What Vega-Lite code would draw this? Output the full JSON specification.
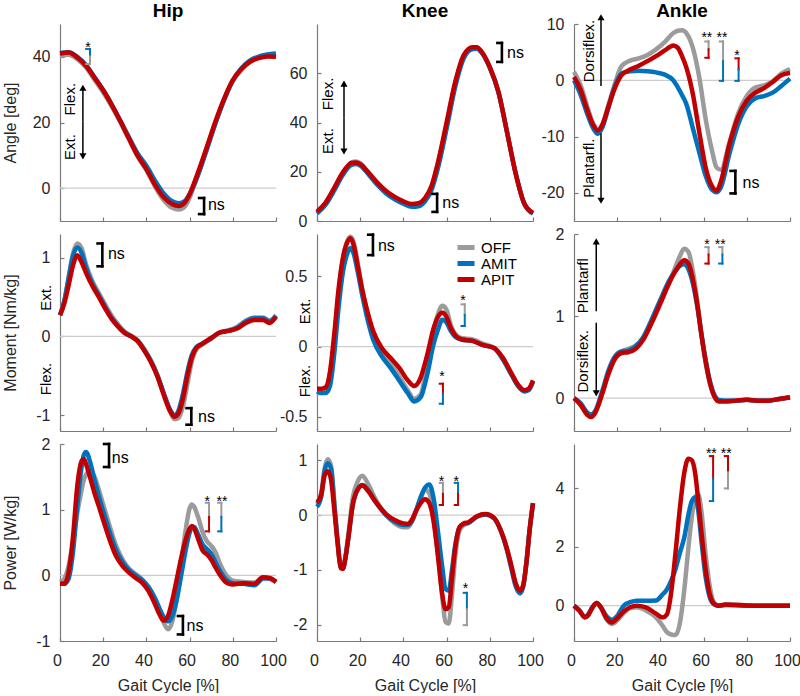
{
"$schema": "https://vega.github.io/schema/vega-lite/v6.json",
"background": "white",
"padding": {"left": 2, "top": 2, "right": 0, "bottom": 0},
"bounds": "flush",
"columns": 3,
"spacing": {"row": 13, "column": 41},
"resolve": {"scale": {"color": "independent"}, "legend": {"color": "independent"}},
"config": {
  "font": "Liberation Sans",
  "view": {"stroke": null},
  "axis": {"grid": false, "domainColor": "#7a7a7a", "domainWidth": 1.2, "tickColor": "#7a7a7a", "tickWidth": 1.2, "tickSize": -4, "labelFontSize": 16, "labelColor": "#262626", "labelFont": "Liberation Sans", "titleFont": "Liberation Sans", "titleFontSize": 16, "titleFontWeight": "normal", "titleColor": "#262626", "labelFlush": false},
  "axisX": {"labelPadding": 15},
  "axisY": {"labelPadding": 14},
  "title": {"font": "Liberation Sans", "fontSize": 19, "fontWeight": "bold", "color": "#000000", "offset": 3},
  "text": {"font": "Liberation Sans"}
},
"concat": [
{
  "width": 216, "height": 197,
  "title": {"text": "Hip"},
  "data": {"values": [
    {"x":0,"OFF":40.2,"AMIT":41.2,"APIT":41.0},{"x":4,"OFF":40.6,"AMIT":41.4,"APIT":41.3},{"x":8,"OFF":39.3,"AMIT":40.0,"APIT":39.8},{"x":12,"OFF":36.8,"AMIT":37.5,"APIT":37.3},{"x":16,"OFF":33.0,"AMIT":33.8,"APIT":33.6},{"x":20,"OFF":29.2,"AMIT":29.9,"APIT":29.8},{"x":24,"OFF":24.8,"AMIT":25.4,"APIT":25.3},{"x":28,"OFF":20.0,"AMIT":20.5,"APIT":20.3},{"x":32,"OFF":14.8,"AMIT":15.4,"APIT":15.0},{"x":36,"OFF":9.6,"AMIT":10.5,"APIT":9.8},{"x":40,"OFF":5.5,"AMIT":6.8,"APIT":5.8},{"x":44,"OFF":0.5,"AMIT":2.3,"APIT":1.0},{"x":48,"OFF":-3.6,"AMIT":-1.6,"APIT":-2.8},{"x":52,"OFF":-6.0,"AMIT":-4.0,"APIT":-4.9},{"x":55,"OFF":-6.5,"AMIT":-4.6,"APIT":-5.4},{"x":58,"OFF":-5.4,"AMIT":-3.8,"APIT":-4.2},{"x":60,"OFF":-2.9,"AMIT":-1.8,"APIT":-1.9},{"x":62,"OFF":0.6,"AMIT":0.9,"APIT":1.4},{"x":64,"OFF":4.3,"AMIT":4.2,"APIT":5.0},{"x":68,"OFF":12.2,"AMIT":11.8,"APIT":12.6},{"x":72,"OFF":20.0,"AMIT":19.8,"APIT":20.4},{"x":76,"OFF":27.0,"AMIT":26.9,"APIT":27.3},{"x":80,"OFF":32.6,"AMIT":32.8,"APIT":32.9},{"x":84,"OFF":36.1,"AMIT":36.5,"APIT":36.3},{"x":88,"OFF":38.5,"AMIT":38.9,"APIT":38.5},{"x":92,"OFF":39.8,"AMIT":40.1,"APIT":39.6},{"x":96,"OFF":40.4,"AMIT":40.7,"APIT":40.1},{"x":100,"OFF":40.5,"AMIT":41.0,"APIT":40.0}
  ]},
  "encoding": {
    "x": {"field": "x", "type": "quantitative", "scale": {"domain": [0, 100], "nice": false}, "axis": {"values": [0,20,40,60,80,100], "labels": false}, "title": null},
    "y": {"field": "y", "type": "quantitative", "scale": {"domain": [-10, 50], "nice": false, "zero": false}, "axis": {"values": [0,20,40], "labelExpr": "'' + datum.value", "titleX": -42, "titleY": 98.5}, "title": "Angle [deg]"}
  },
  "layer": [
    {"data": {"values": [{"x":0,"x2":100,"y":0}]}, "mark": {"type": "rule", "color": "#cccccc", "strokeWidth": 1.3}, "encoding": {"x2": {"field": "x2"}}},
    {"transform": [{"fold": ["OFF","AMIT","APIT"], "as": ["c","y"]}, {"filter": "datum.c === 'OFF'"}], "mark": {"type": "line", "strokeWidth": 4.5, "interpolate": "monotone"}, "encoding": {"color": {"field": "c", "type": "nominal", "scale": {"domain": ["OFF","AMIT","APIT"], "range": ["#9b9b9b","#0072bd","#c00000"]}, "legend": null}}},
    {"transform": [{"fold": ["OFF","AMIT","APIT"], "as": ["c","y"]}, {"filter": "datum.c === 'AMIT'"}], "mark": {"type": "line", "strokeWidth": 4.5, "interpolate": "monotone"}, "encoding": {"color": {"field": "c", "type": "nominal", "scale": {"domain": ["OFF","AMIT","APIT"], "range": ["#9b9b9b","#0072bd","#c00000"]}, "legend": null}}},
    {"transform": [{"fold": ["OFF","AMIT","APIT"], "as": ["c","y"]}, {"filter": "datum.c === 'APIT'"}], "mark": {"type": "line", "strokeWidth": 4.5, "interpolate": "monotone"}, "encoding": {"color": {"field": "c", "type": "nominal", "scale": {"domain": ["OFF","AMIT","APIT"], "range": ["#9b9b9b","#0072bd","#c00000"]}, "legend": null}}},
    {"data": {"values": [
      {"x":13.9,"x2":13.9,"y":42.4,"y2":40.1,"k":"AMIT"},{"x":13.9,"x2":13.9,"y":40.1,"y2":37.8,"k":"OFF"},{"x":12.1,"x2":13.9,"y":42.4,"y2":42.4,"k":"AMIT"},{"x":12.1,"x2":13.9,"y":37.8,"y2":37.8,"k":"OFF"}
    ]}, "mark": {"type": "rule", "strokeWidth": 2, "strokeCap": "square"}, "encoding": {"x2": {"field": "x2"}, "y2": {"field": "y2"}, "stroke": {"field": "k", "type": "nominal", "scale": {"domain": ["OFF","AMIT","APIT"], "range": ["#9b9b9b","#0072bd","#c00000"]}, "legend": null}}},
    {"data": {"values": [
      {"x":66.7,"x2":66.7,"y":-3.0,"y2":-7.9},{"x":64.4,"x2":66.7,"y":-3.0,"y2":-3.0},{"x":64.4,"x2":66.7,"y":-7.9,"y2":-7.9}
    ]}, "mark": {"type": "rule", "strokeWidth": 2.6, "strokeCap": "square", "color": "#000000"}, "encoding": {"x2": {"field": "x2"}, "y2": {"field": "y2"}}},
    {"data": {"values": [{"x":68.5,"y":-5.4,"t":"ns"}]}, "mark": {"type": "text", "align": "left", "baseline": "alphabetic", "dy": 4, "fontSize": 16, "color": "#000000"}, "encoding": {"text": {"field": "t"}}},
    {"data": {"values": [{"x":13.0,"y":44.0,"t":"*"}]}, "mark": {"type": "text", "align": "center", "baseline": "alphabetic", "dy": 8, "fontSize": 14, "color": "#000000"}, "encoding": {"text": {"field": "t"}}},
    {"data": {"values": [{"x":4.4,"y":27.1,"t":"Flex."},{"x":4.4,"y":12.5,"t":"Ext."}]}, "mark": {"type": "text", "angle": 270, "align": "center", "baseline": "middle", "fontSize": 15, "color": "#000000"}, "encoding": {"text": {"field": "t"}}},
    {"data": {"values": [{"x":10.6,"y":20.2,"y2":30.6},{"x":10.6,"y":20.2,"y2":9.7}]}, "mark": {"type": "rule", "color": "#000000", "strokeWidth": 1.5}, "encoding": {"y2": {"field": "y2"}}},
    {"data": {"values": [{"x":10.6,"y":30.6,"d":"up"},{"x":10.6,"y":9.7,"d":"down"}]}, "mark": {"type": "point", "filled": true, "color": "#000000", "opacity": 1, "size": 50}, "encoding": {"shape": {"field": "d", "type": "nominal", "scale": {"domain": ["up","down"], "range": ["triangle-up","triangle-down"]}, "legend": null}}}
  ]
},
{
  "width": 216, "height": 197,
  "title": {"text": "Knee"},
  "data": {"values": [
    {"x":0,"OFF":3.5,"AMIT":3.0,"APIT":3.8},{"x":4,"OFF":7.2,"AMIT":6.6,"APIT":7.5},{"x":8,"OFF":13.2,"AMIT":12.4,"APIT":13.5},{"x":12,"OFF":19.6,"AMIT":18.8,"APIT":19.8},{"x":16,"OFF":23.8,"AMIT":22.8,"APIT":23.6},{"x":18,"OFF":24.2,"AMIT":23.1,"APIT":23.8},{"x":20,"OFF":23.5,"AMIT":22.5,"APIT":23.1},{"x":24,"OFF":19.4,"AMIT":18.8,"APIT":19.5},{"x":28,"OFF":15.0,"AMIT":14.6,"APIT":15.5},{"x":32,"OFF":11.6,"AMIT":11.2,"APIT":12.2},{"x":36,"OFF":9.2,"AMIT":8.8,"APIT":9.8},{"x":40,"OFF":7.2,"AMIT":7.0,"APIT":8.0},{"x":44,"OFF":6.0,"AMIT":5.8,"APIT":6.9},{"x":47,"OFF":6.2,"AMIT":6.0,"APIT":7.2},{"x":50,"OFF":8.5,"AMIT":8.0,"APIT":9.3},{"x":53,"OFF":13.5,"AMIT":12.5,"APIT":14.2},{"x":56,"OFF":23.0,"AMIT":21.5,"APIT":23.8},{"x":60,"OFF":39.2,"AMIT":37.5,"APIT":40.0},{"x":64,"OFF":56.0,"AMIT":54.5,"APIT":56.5},{"x":68,"OFF":67.3,"AMIT":66.2,"APIT":67.5},{"x":72,"OFF":70.3,"AMIT":69.8,"APIT":70.6},{"x":74,"OFF":70.4,"AMIT":70.0,"APIT":70.6},{"x":76,"OFF":68.9,"AMIT":68.6,"APIT":69.0},{"x":80,"OFF":62.5,"AMIT":62.2,"APIT":62.5},{"x":84,"OFF":52.5,"AMIT":52.2,"APIT":52.5},{"x":88,"OFF":36.0,"AMIT":36.0,"APIT":36.0},{"x":92,"OFF":19.3,"AMIT":19.3,"APIT":19.2},{"x":96,"OFF":7.0,"AMIT":7.0,"APIT":7.0},{"x":100,"OFF":3.3,"AMIT":3.0,"APIT":3.3}
  ]},
  "encoding": {
    "x": {"field": "x", "type": "quantitative", "scale": {"domain": [0, 100], "nice": false}, "axis": {"values": [0,20,40,60,80,100], "labels": false}, "title": null},
    "y": {"field": "y", "type": "quantitative", "scale": {"domain": [0, 80], "nice": false, "zero": false}, "axis": {"values": [0,20,40,60], "labelExpr": "'' + datum.value"}, "title": null}
  },
  "layer": [
    {"transform": [{"fold": ["OFF","AMIT","APIT"], "as": ["c","y"]}, {"filter": "datum.c === 'OFF'"}], "mark": {"type": "line", "strokeWidth": 4.5, "interpolate": "monotone"}, "encoding": {"color": {"field": "c", "type": "nominal", "scale": {"domain": ["OFF","AMIT","APIT"], "range": ["#9b9b9b","#0072bd","#c00000"]}, "legend": null}}},
    {"transform": [{"fold": ["OFF","AMIT","APIT"], "as": ["c","y"]}, {"filter": "datum.c === 'AMIT'"}], "mark": {"type": "line", "strokeWidth": 4.5, "interpolate": "monotone"}, "encoding": {"color": {"field": "c", "type": "nominal", "scale": {"domain": ["OFF","AMIT","APIT"], "range": ["#9b9b9b","#0072bd","#c00000"]}, "legend": null}}},
    {"transform": [{"fold": ["OFF","AMIT","APIT"], "as": ["c","y"]}, {"filter": "datum.c === 'APIT'"}], "mark": {"type": "line", "strokeWidth": 4.5, "interpolate": "monotone"}, "encoding": {"color": {"field": "c", "type": "nominal", "scale": {"domain": ["OFF","AMIT","APIT"], "range": ["#9b9b9b","#0072bd","#c00000"]}, "legend": null}}},
    {"data": {"values": [
      {"x":85.6,"x2":85.6,"y":72.3,"y2":64.6},{"x":83.5,"x2":85.6,"y":72.3,"y2":72.3},{"x":83.5,"x2":85.6,"y":64.6,"y2":64.6},
      {"x":55.6,"x2":55.6,"y":11.0,"y2":3.7},{"x":53.5,"x2":55.6,"y":11.0,"y2":11.0},{"x":53.5,"x2":55.6,"y":3.7,"y2":3.7}
    ]}, "mark": {"type": "rule", "strokeWidth": 2.6, "strokeCap": "square", "color": "#000000"}, "encoding": {"x2": {"field": "x2"}, "y2": {"field": "y2"}}},
    {"data": {"values": [{"x":88.0,"y":67.8,"t":"ns"},{"x":58.0,"y":6.9,"t":"ns"}]}, "mark": {"type": "text", "align": "left", "baseline": "alphabetic", "dy": 4, "fontSize": 16, "color": "#000000"}, "encoding": {"text": {"field": "t"}}},
    {"data": {"values": [{"x":5.1,"y":51.6,"t":"Flex."},{"x":5.1,"y":32.5,"t":"Ext."}]}, "mark": {"type": "text", "angle": 270, "align": "center", "baseline": "middle", "fontSize": 15, "color": "#000000"}, "encoding": {"text": {"field": "t"}}},
    {"data": {"values": [{"x":12.5,"y":42,"y2":55.8},{"x":12.5,"y":42,"y2":28.2}]}, "mark": {"type": "rule", "color": "#000000", "strokeWidth": 1.5}, "encoding": {"y2": {"field": "y2"}}},
    {"data": {"values": [{"x":12.5,"y":55.8,"d":"up"},{"x":12.5,"y":28.2,"d":"down"}]}, "mark": {"type": "point", "filled": true, "color": "#000000", "opacity": 1, "size": 50}, "encoding": {"shape": {"field": "d", "type": "nominal", "scale": {"domain": ["up","down"], "range": ["triangle-up","triangle-down"]}, "legend": null}}}
  ]
},
{
  "width": 216, "height": 197,
  "title": {"text": "Ankle", "dy": 10},
  "data": {"values": [
    {"x":0,"OFF":1.5,"AMIT":0.0,"APIT":0.6},{"x":3,"OFF":-0.8,"AMIT":-2.5,"APIT":-1.6},{"x":6,"OFF":-4.5,"AMIT":-5.8,"APIT":-5.1},{"x":9,"OFF":-7.8,"AMIT":-8.6,"APIT":-8.0},{"x":11,"OFF":-8.8,"AMIT":-9.5,"APIT":-8.9},{"x":13,"OFF":-8.0,"AMIT":-8.5,"APIT":-8.0},{"x":16,"OFF":-4.3,"AMIT":-4.8,"APIT":-4.6},{"x":19,"OFF":-0.5,"AMIT":-1.0,"APIT":-1.3},{"x":22,"OFF":2.5,"AMIT":1.2,"APIT":0.9},{"x":26,"OFF":3.5,"AMIT":1.6,"APIT":1.9},{"x":30,"OFF":3.9,"AMIT":1.7,"APIT":2.6},{"x":34,"OFF":4.5,"AMIT":1.6,"APIT":3.4},{"x":38,"OFF":5.5,"AMIT":1.4,"APIT":4.3},{"x":42,"OFF":6.8,"AMIT":1.0,"APIT":5.3},{"x":46,"OFF":8.4,"AMIT":0.0,"APIT":6.2},{"x":48,"OFF":8.8,"AMIT":-1.2,"APIT":5.8},{"x":50,"OFF":8.9,"AMIT":-2.6,"APIT":4.3},{"x":52,"OFF":8.4,"AMIT":-4.2,"APIT":2.3},{"x":55,"OFF":5.8,"AMIT":-8.5,"APIT":-2.4},{"x":58,"OFF":0.5,"AMIT":-12.8,"APIT":-9.2},{"x":61,"OFF":-7.0,"AMIT":-17.0,"APIT":-15.6},{"x":64,"OFF":-12.7,"AMIT":-19.5,"APIT":-18.9},{"x":66,"OFF":-15.5,"AMIT":-19.9,"APIT":-19.6},{"x":68,"OFF":-15.9,"AMIT":-19.0,"APIT":-18.0},{"x":72,"OFF":-11.0,"AMIT":-13.0,"APIT":-11.3},{"x":76,"OFF":-5.9,"AMIT":-7.8,"APIT":-6.5},{"x":80,"OFF":-2.8,"AMIT":-4.6,"APIT":-3.6},{"x":84,"OFF":-1.3,"AMIT":-3.2,"APIT":-2.2},{"x":88,"OFF":-0.9,"AMIT":-2.8,"APIT":-1.4},{"x":92,"OFF":-0.2,"AMIT":-2.2,"APIT":-0.3},{"x":96,"OFF":1.2,"AMIT":-1.0,"APIT":0.9},{"x":100,"OFF":2.0,"AMIT":0.3,"APIT":1.3}
  ]},
  "encoding": {
    "x": {"field": "x", "type": "quantitative", "scale": {"domain": [0, 100], "nice": false}, "axis": {"values": [0,20,40,60,80,100], "labels": false}, "title": null},
    "y": {"field": "y", "type": "quantitative", "scale": {"domain": [-25, 10], "nice": false, "zero": false}, "axis": {"values": [-20,-10,0,10], "labelExpr": "'' + datum.value"}, "title": null}
  },
  "layer": [
    {"data": {"values": [{"x":0,"x2":100,"y":0}]}, "mark": {"type": "rule", "color": "#cccccc", "strokeWidth": 1.3}, "encoding": {"x2": {"field": "x2"}}},
    {"transform": [{"fold": ["OFF","AMIT","APIT"], "as": ["c","y"]}, {"filter": "datum.c === 'OFF'"}], "mark": {"type": "line", "strokeWidth": 4.5, "interpolate": "monotone"}, "encoding": {"color": {"field": "c", "type": "nominal", "scale": {"domain": ["OFF","AMIT","APIT"], "range": ["#9b9b9b","#0072bd","#c00000"]}, "legend": null}}},
    {"transform": [{"fold": ["OFF","AMIT","APIT"], "as": ["c","y"]}, {"filter": "datum.c === 'AMIT'"}], "mark": {"type": "line", "strokeWidth": 4.5, "interpolate": "monotone"}, "encoding": {"color": {"field": "c", "type": "nominal", "scale": {"domain": ["OFF","AMIT","APIT"], "range": ["#9b9b9b","#0072bd","#c00000"]}, "legend": null}}},
    {"transform": [{"fold": ["OFF","AMIT","APIT"], "as": ["c","y"]}, {"filter": "datum.c === 'APIT'"}], "mark": {"type": "line", "strokeWidth": 4.5, "interpolate": "monotone"}, "encoding": {"color": {"field": "c", "type": "nominal", "scale": {"domain": ["OFF","AMIT","APIT"], "range": ["#9b9b9b","#0072bd","#c00000"]}, "legend": null}}},
    {"data": {"values": [
      {"x":62.3,"x2":62.3,"y":6.9,"y2":5.5,"k":"OFF"},{"x":62.3,"x2":62.3,"y":5.5,"y2":4.0,"k":"APIT"},{"x":60.8,"x2":62.3,"y":6.9,"y2":6.9,"k":"OFF"},{"x":60.8,"x2":62.3,"y":4.0,"y2":4.0,"k":"APIT"},
      {"x":69.0,"x2":69.0,"y":6.9,"y2":3.4,"k":"OFF"},{"x":69.0,"x2":69.0,"y":3.4,"y2":-0.1,"k":"AMIT"},{"x":67.5,"x2":69.0,"y":6.9,"y2":6.9,"k":"OFF"},{"x":67.5,"x2":69.0,"y":-0.1,"y2":-0.1,"k":"AMIT"},
      {"x":76.2,"x2":76.2,"y":3.9,"y2":1.95,"k":"APIT"},{"x":76.2,"x2":76.2,"y":1.95,"y2":-0.1,"k":"AMIT"},{"x":74.7,"x2":76.2,"y":3.9,"y2":3.9,"k":"APIT"},{"x":74.7,"x2":76.2,"y":-0.1,"y2":-0.1,"k":"AMIT"}
    ]}, "mark": {"type": "rule", "strokeWidth": 2, "strokeCap": "square"}, "encoding": {"x2": {"field": "x2"}, "y2": {"field": "y2"}, "stroke": {"field": "k", "type": "nominal", "scale": {"domain": ["OFF","AMIT","APIT"], "range": ["#9b9b9b","#0072bd","#c00000"]}, "legend": null}}},
    {"data": {"values": [
      {"x":74.7,"x2":74.7,"y":-16.1,"y2":-20.1},{"x":72.5,"x2":74.7,"y":-16.1,"y2":-16.1},{"x":72.5,"x2":74.7,"y":-20.1,"y2":-20.1}
    ]}, "mark": {"type": "rule", "strokeWidth": 2.6, "strokeCap": "square", "color": "#000000"}, "encoding": {"x2": {"field": "x2"}, "y2": {"field": "y2"}}},
    {"data": {"values": [{"x":78.0,"y":-18.4,"t":"ns"}]}, "mark": {"type": "text", "align": "left", "baseline": "alphabetic", "dy": 4, "fontSize": 16, "color": "#000000"}, "encoding": {"text": {"field": "t"}}},
    {"data": {"values": [{"x":61.5,"y":8.3,"t":"**"},{"x":68.5,"y":8.3,"t":"**"},{"x":75.5,"y":5.1,"t":"*"}]}, "mark": {"type": "text", "align": "center", "baseline": "alphabetic", "dy": 8, "fontSize": 14, "color": "#000000"}, "encoding": {"text": {"field": "t"}}},
    {"data": {"values": [{"x":6.9,"y":5.2,"t":"Dorsiflex."},{"x":6.9,"y":-15.6,"t":"Plantarfl."}]}, "mark": {"type": "text", "angle": 270, "align": "center", "baseline": "middle", "fontSize": 15, "color": "#000000"}, "encoding": {"text": {"field": "t"}}},
    {"data": {"values": [{"x":12.5,"y":-1.0,"y2":11.2},{"x":12.5,"y":-9.4,"y2":-21.4}]}, "mark": {"type": "rule", "color": "#000000", "strokeWidth": 1.5}, "encoding": {"y2": {"field": "y2"}}},
    {"data": {"values": [{"x":12.5,"y":11.2,"d":"up"},{"x":12.5,"y":-21.4,"d":"down"}]}, "mark": {"type": "point", "filled": true, "color": "#000000", "opacity": 1, "size": 50}, "encoding": {"shape": {"field": "d", "type": "nominal", "scale": {"domain": ["up","down"], "range": ["triangle-up","triangle-down"]}, "legend": null}}}
  ]
},
{
  "width": 216, "height": 197,
  "data": {"values": [
    {"x":0,"OFF":0.27,"AMIT":0.27,"APIT":0.27},{"x":2,"OFF":0.45,"AMIT":0.45,"APIT":0.42},{"x":4,"OFF":0.75,"AMIT":0.74,"APIT":0.65},{"x":6,"OFF":1.05,"AMIT":1.02,"APIT":0.90},{"x":8,"OFF":1.18,"AMIT":1.13,"APIT":1.03},{"x":10,"OFF":1.12,"AMIT":1.06,"APIT":0.94},{"x":12,"OFF":0.92,"AMIT":0.88,"APIT":0.81},{"x":15,"OFF":0.70,"AMIT":0.67,"APIT":0.64},{"x":18,"OFF":0.55,"AMIT":0.52,"APIT":0.50},{"x":21,"OFF":0.40,"AMIT":0.37,"APIT":0.35},{"x":24,"OFF":0.26,"AMIT":0.23,"APIT":0.22},{"x":27,"OFF":0.15,"AMIT":0.13,"APIT":0.12},{"x":30,"OFF":0.06,"AMIT":0.05,"APIT":0.04},{"x":33,"OFF":0.01,"AMIT":0.00,"APIT":0.00},{"x":36,"OFF":-0.05,"AMIT":-0.06,"APIT":-0.06},{"x":39,"OFF":-0.16,"AMIT":-0.17,"APIT":-0.18},{"x":42,"OFF":-0.30,"AMIT":-0.31,"APIT":-0.32},{"x":45,"OFF":-0.48,"AMIT":-0.49,"APIT":-0.50},{"x":48,"OFF":-0.72,"AMIT":-0.72,"APIT":-0.74},{"x":51,"OFF":-0.95,"AMIT":-0.93,"APIT":-0.95},{"x":53,"OFF":-1.05,"AMIT":-1.00,"APIT":-1.02},{"x":55,"OFF":-1.03,"AMIT":-0.93,"APIT":-0.97},{"x":57,"OFF":-0.88,"AMIT":-0.72,"APIT":-0.78},{"x":59,"OFF":-0.60,"AMIT":-0.45,"APIT":-0.50},{"x":61,"OFF":-0.32,"AMIT":-0.24,"APIT":-0.27},{"x":63,"OFF":-0.17,"AMIT":-0.14,"APIT":-0.15},{"x":66,"OFF":-0.10,"AMIT":-0.09,"APIT":-0.09},{"x":70,"OFF":-0.03,"AMIT":-0.02,"APIT":-0.02},{"x":74,"OFF":0.05,"AMIT":0.05,"APIT":0.05},{"x":78,"OFF":0.08,"AMIT":0.07,"APIT":0.07},{"x":82,"OFF":0.12,"AMIT":0.11,"APIT":0.10},{"x":86,"OFF":0.20,"AMIT":0.19,"APIT":0.17},{"x":90,"OFF":0.24,"AMIT":0.23,"APIT":0.21},{"x":94,"OFF":0.24,"AMIT":0.23,"APIT":0.21},{"x":97,"OFF":0.20,"AMIT":0.19,"APIT":0.17},{"x":100,"OFF":0.27,"AMIT":0.26,"APIT":0.25}
  ]},
  "encoding": {
    "x": {"field": "x", "type": "quantitative", "scale": {"domain": [0, 100], "nice": false}, "axis": {"values": [0,20,40,60,80,100], "labels": false}, "title": null},
    "y": {"field": "y", "type": "quantitative", "scale": {"domain": [-1.2, 1.3], "nice": false, "zero": false}, "axis": {"values": [-1,0,1], "labelExpr": "'' + datum.value", "titleX": -42, "titleY": 98.5}, "title": "Moment [Nm/kg]"}
  },
  "layer": [
    {"data": {"values": [{"x":0,"x2":100,"y":0}]}, "mark": {"type": "rule", "color": "#cccccc", "strokeWidth": 1.3}, "encoding": {"x2": {"field": "x2"}}},
    {"transform": [{"fold": ["OFF","AMIT","APIT"], "as": ["c","y"]}, {"filter": "datum.c === 'OFF'"}], "mark": {"type": "line", "strokeWidth": 4.5, "interpolate": "monotone"}, "encoding": {"color": {"field": "c", "type": "nominal", "scale": {"domain": ["OFF","AMIT","APIT"], "range": ["#9b9b9b","#0072bd","#c00000"]}, "legend": null}}},
    {"transform": [{"fold": ["OFF","AMIT","APIT"], "as": ["c","y"]}, {"filter": "datum.c === 'AMIT'"}], "mark": {"type": "line", "strokeWidth": 4.5, "interpolate": "monotone"}, "encoding": {"color": {"field": "c", "type": "nominal", "scale": {"domain": ["OFF","AMIT","APIT"], "range": ["#9b9b9b","#0072bd","#c00000"]}, "legend": null}}},
    {"transform": [{"fold": ["OFF","AMIT","APIT"], "as": ["c","y"]}, {"filter": "datum.c === 'APIT'"}], "mark": {"type": "line", "strokeWidth": 4.5, "interpolate": "monotone"}, "encoding": {"color": {"field": "c", "type": "nominal", "scale": {"domain": ["OFF","AMIT","APIT"], "range": ["#9b9b9b","#0072bd","#c00000"]}, "legend": null}}},
    {"data": {"values": [
      {"x":19.6,"x2":19.6,"y":1.18,"y2":0.89},{"x":17.4,"x2":19.6,"y":1.18,"y2":1.18},{"x":17.4,"x2":19.6,"y":0.89,"y2":0.89},
      {"x":60.8,"x2":60.8,"y":-0.91,"y2":-1.12},{"x":58.6,"x2":60.8,"y":-0.91,"y2":-0.91},{"x":58.6,"x2":60.8,"y":-1.12,"y2":-1.12}
    ]}, "mark": {"type": "rule", "strokeWidth": 2.6, "strokeCap": "square", "color": "#000000"}, "encoding": {"x2": {"field": "x2"}, "y2": {"field": "y2"}}},
    {"data": {"values": [{"x":22.2,"y":1.03,"t":"ns"},{"x":63.9,"y":-1.04,"t":"ns"}]}, "mark": {"type": "text", "align": "left", "baseline": "alphabetic", "dy": 4, "fontSize": 16, "color": "#000000"}, "encoding": {"text": {"field": "t"}}},
    {"data": {"values": [{"x":-6.3,"y":0.49,"t":"Ext."},{"x":-6.3,"y":-0.54,"t":"Flex."}]}, "mark": {"type": "text", "angle": 270, "align": "center", "baseline": "middle", "fontSize": 15, "color": "#000000"}, "encoding": {"text": {"field": "t"}}}
  ]
},
{
  "width": 216, "height": 197,
  "data": {"values": [
    {"x":0,"OFF":-0.33,"AMIT":-0.32,"APIT":-0.30},{"x":2,"OFF":-0.33,"AMIT":-0.33,"APIT":-0.30},{"x":4,"OFF":-0.32,"AMIT":-0.33,"APIT":-0.29},{"x":6,"OFF":-0.22,"AMIT":-0.28,"APIT":-0.18},{"x":8,"OFF":0.05,"AMIT":-0.05,"APIT":0.09},{"x":10,"OFF":0.38,"AMIT":0.28,"APIT":0.41},{"x":12,"OFF":0.62,"AMIT":0.53,"APIT":0.63},{"x":14,"OFF":0.75,"AMIT":0.66,"APIT":0.74},{"x":15.5,"OFF":0.78,"AMIT":0.70,"APIT":0.77},{"x":17,"OFF":0.74,"AMIT":0.66,"APIT":0.72},{"x":19,"OFF":0.58,"AMIT":0.52,"APIT":0.56},{"x":21,"OFF":0.40,"AMIT":0.36,"APIT":0.40},{"x":23,"OFF":0.25,"AMIT":0.22,"APIT":0.27},{"x":26,"OFF":0.08,"AMIT":0.05,"APIT":0.11},{"x":30,"OFF":-0.05,"AMIT":-0.07,"APIT":-0.01},{"x":34,"OFF":-0.12,"AMIT":-0.15,"APIT":-0.08},{"x":38,"OFF":-0.21,"AMIT":-0.24,"APIT":-0.15},{"x":42,"OFF":-0.31,"AMIT":-0.33,"APIT":-0.24},{"x":45,"OFF":-0.37,"AMIT":-0.39,"APIT":-0.28},{"x":48,"OFF":-0.34,"AMIT":-0.36,"APIT":-0.22},{"x":51,"OFF":-0.12,"AMIT":-0.20,"APIT":-0.06},{"x":54,"OFF":0.12,"AMIT":0.02,"APIT":0.13},{"x":56,"OFF":0.23,"AMIT":0.12,"APIT":0.21},{"x":58,"OFF":0.29,"AMIT":0.19,"APIT":0.24},{"x":60,"OFF":0.26,"AMIT":0.17,"APIT":0.21},{"x":62,"OFF":0.15,"AMIT":0.11,"APIT":0.13},{"x":64,"OFF":0.09,"AMIT":0.07,"APIT":0.08},{"x":67,"OFF":0.06,"AMIT":0.05,"APIT":0.05},{"x":72,"OFF":0.05,"AMIT":0.04,"APIT":0.04},{"x":77,"OFF":0.02,"AMIT":0.01,"APIT":0.01},{"x":82,"OFF":-0.01,"AMIT":-0.01,"APIT":-0.01},{"x":86,"OFF":-0.08,"AMIT":-0.09,"APIT":-0.08},{"x":90,"OFF":-0.19,"AMIT":-0.20,"APIT":-0.19},{"x":93,"OFF":-0.27,"AMIT":-0.28,"APIT":-0.27},{"x":96,"OFF":-0.31,"AMIT":-0.32,"APIT":-0.31},{"x":98,"OFF":-0.30,"AMIT":-0.31,"APIT":-0.30},{"x":100,"OFF":-0.25,"AMIT":-0.25,"APIT":-0.24}
  ]},
  "encoding": {
    "x": {"field": "x", "type": "quantitative", "scale": {"domain": [0, 100], "nice": false}, "axis": {"values": [0,20,40,60,80,100], "labels": false}, "title": null},
    "y": {"field": "y", "type": "quantitative", "scale": {"domain": [-0.6, 0.8], "nice": false, "zero": false}, "axis": {"values": [-0.5,0,0.5], "labelExpr": "'' + datum.value"}, "title": null}
  },
  "layer": [
    {"data": {"values": [{"x":0,"x2":100,"y":0}]}, "mark": {"type": "rule", "color": "#cccccc", "strokeWidth": 1.3}, "encoding": {"x2": {"field": "x2"}}},
    {"transform": [{"fold": ["OFF","AMIT","APIT"], "as": ["c","y"]}, {"filter": "datum.c === 'OFF'"}], "mark": {"type": "line", "strokeWidth": 4.5, "interpolate": "monotone"}, "encoding": {"color": {"field": "c", "type": "nominal", "scale": {"domain": ["OFF","AMIT","APIT"], "range": ["#9b9b9b","#0072bd","#c00000"]}, "legend": {"orient": "none", "legendX": 138, "legendY": 6, "title": null, "symbolType": "stroke", "symbolStrokeWidth": 5, "symbolSize": 289, "labelFontSize": 15, "labelColor": "#000000", "labelFont": "Liberation Sans", "rowPadding": 0, "clipHeight": 15, "labelOffset": 4, "padding": 0}}}},
    {"transform": [{"fold": ["OFF","AMIT","APIT"], "as": ["c","y"]}, {"filter": "datum.c === 'AMIT'"}], "mark": {"type": "line", "strokeWidth": 4.5, "interpolate": "monotone"}, "encoding": {"color": {"field": "c", "type": "nominal", "scale": {"domain": ["OFF","AMIT","APIT"], "range": ["#9b9b9b","#0072bd","#c00000"]}, "legend": {"orient": "none", "legendX": 138, "legendY": 6, "title": null, "symbolType": "stroke", "symbolStrokeWidth": 5, "symbolSize": 289, "labelFontSize": 15, "labelColor": "#000000", "labelFont": "Liberation Sans", "rowPadding": 0, "clipHeight": 15, "labelOffset": 4, "padding": 0}}}},
    {"transform": [{"fold": ["OFF","AMIT","APIT"], "as": ["c","y"]}, {"filter": "datum.c === 'APIT'"}], "mark": {"type": "line", "strokeWidth": 4.5, "interpolate": "monotone"}, "encoding": {"color": {"field": "c", "type": "nominal", "scale": {"domain": ["OFF","AMIT","APIT"], "range": ["#9b9b9b","#0072bd","#c00000"]}, "legend": {"orient": "none", "legendX": 138, "legendY": 6, "title": null, "symbolType": "stroke", "symbolStrokeWidth": 5, "symbolSize": 289, "labelFontSize": 15, "labelColor": "#000000", "labelFont": "Liberation Sans", "rowPadding": 0, "clipHeight": 15, "labelOffset": 4, "padding": 0}}}},
    {"data": {"values": [
      {"x":68.4,"x2":68.4,"y":0.30,"y2":0.225,"k":"OFF"},{"x":68.4,"x2":68.4,"y":0.225,"y2":0.146,"k":"AMIT"},{"x":66.9,"x2":68.4,"y":0.30,"y2":0.30,"k":"OFF"},{"x":66.9,"x2":68.4,"y":0.146,"y2":0.146,"k":"AMIT"},
      {"x":58.3,"x2":58.3,"y":-0.264,"y2":-0.335,"k":"APIT"},{"x":58.3,"x2":58.3,"y":-0.335,"y2":-0.406,"k":"AMIT"},{"x":56.8,"x2":58.3,"y":-0.264,"y2":-0.264,"k":"APIT"},{"x":56.8,"x2":58.3,"y":-0.406,"y2":-0.406,"k":"AMIT"}
    ]}, "mark": {"type": "rule", "strokeWidth": 2, "strokeCap": "square"}, "encoding": {"x2": {"field": "x2"}, "y2": {"field": "y2"}, "stroke": {"field": "k", "type": "nominal", "scale": {"domain": ["OFF","AMIT","APIT"], "range": ["#9b9b9b","#0072bd","#c00000"]}, "legend": null}}},
    {"data": {"values": [
      {"x":25.9,"x2":25.9,"y":0.795,"y2":0.65},{"x":23.7,"x2":25.9,"y":0.795,"y2":0.795},{"x":23.7,"x2":25.9,"y":0.65,"y2":0.65}
    ]}, "mark": {"type": "rule", "strokeWidth": 2.6, "strokeCap": "square", "color": "#000000"}, "encoding": {"x2": {"field": "x2"}, "y2": {"field": "y2"}}},
    {"data": {"values": [{"x":28.2,"y":0.71,"t":"ns"}]}, "mark": {"type": "text", "align": "left", "baseline": "alphabetic", "dy": 4, "fontSize": 16, "color": "#000000"}, "encoding": {"text": {"field": "t"}}},
    {"data": {"values": [{"x":67.6,"y":0.35,"t":"*"},{"x":57.9,"y":-0.19,"t":"*"}]}, "mark": {"type": "text", "align": "center", "baseline": "alphabetic", "dy": 8, "fontSize": 14, "color": "#000000"}, "encoding": {"text": {"field": "t"}}},
    {"data": {"values": [{"x":-5.7,"y":0.25,"t":"Ext."},{"x":-5.7,"y":-0.245,"t":"Flex."}]}, "mark": {"type": "text", "angle": 270, "align": "center", "baseline": "middle", "fontSize": 15, "color": "#000000"}, "encoding": {"text": {"field": "t"}}}
  ]
},
{
  "width": 216, "height": 197,
  "data": {"values": [
    {"x":0,"OFF":0,"AMIT":0,"APIT":0},{"x":3,"OFF":-0.07,"AMIT":-0.06,"APIT":-0.08},{"x":6,"OFF":-0.18,"AMIT":-0.17,"APIT":-0.20},{"x":8,"OFF":-0.21,"AMIT":-0.20,"APIT":-0.23},{"x":10,"OFF":-0.16,"AMIT":-0.15,"APIT":-0.17},{"x":13,"OFF":0.05,"AMIT":0.08,"APIT":0.05},{"x":16,"OFF":0.30,"AMIT":0.34,"APIT":0.30},{"x":19,"OFF":0.50,"AMIT":0.51,"APIT":0.48},{"x":22,"OFF":0.57,"AMIT":0.57,"APIT":0.55},{"x":25,"OFF":0.60,"AMIT":0.58,"APIT":0.56},{"x":28,"OFF":0.63,"AMIT":0.62,"APIT":0.59},{"x":32,"OFF":0.73,"AMIT":0.74,"APIT":0.71},{"x":36,"OFF":0.92,"AMIT":0.96,"APIT":0.92},{"x":40,"OFF":1.15,"AMIT":1.20,"APIT":1.16},{"x":44,"OFF":1.40,"AMIT":1.43,"APIT":1.40},{"x":47,"OFF":1.60,"AMIT":1.55,"APIT":1.55},{"x":49,"OFF":1.73,"AMIT":1.61,"APIT":1.63},{"x":51,"OFF":1.82,"AMIT":1.63,"APIT":1.68},{"x":53,"OFF":1.78,"AMIT":1.57,"APIT":1.64},{"x":55,"OFF":1.55,"AMIT":1.40,"APIT":1.45},{"x":57,"OFF":1.20,"AMIT":1.13,"APIT":1.15},{"x":59,"OFF":0.78,"AMIT":0.78,"APIT":0.77},{"x":61,"OFF":0.42,"AMIT":0.46,"APIT":0.44},{"x":63,"OFF":0.17,"AMIT":0.20,"APIT":0.18},{"x":65,"OFF":0.02,"AMIT":0.04,"APIT":0.02},{"x":67,"OFF":-0.03,"AMIT":-0.02,"APIT":-0.04},{"x":70,"OFF":-0.03,"AMIT":-0.03,"APIT":-0.04},{"x":75,"OFF":-0.03,"AMIT":-0.03,"APIT":-0.03},{"x":80,"OFF":-0.02,"AMIT":-0.02,"APIT":-0.02},{"x":85,"OFF":-0.03,"AMIT":-0.03,"APIT":-0.03},{"x":90,"OFF":-0.03,"AMIT":-0.03,"APIT":-0.03},{"x":95,"OFF":-0.01,"AMIT":-0.01,"APIT":-0.01},{"x":100,"OFF":0.01,"AMIT":0.01,"APIT":0.01}
  ]},
  "encoding": {
    "x": {"field": "x", "type": "quantitative", "scale": {"domain": [0, 100], "nice": false}, "axis": {"values": [0,20,40,60,80,100], "labels": false}, "title": null},
    "y": {"field": "y", "type": "quantitative", "scale": {"domain": [-0.4, 2], "nice": false, "zero": false}, "axis": {"values": [0,1,2], "labelExpr": "'' + datum.value"}, "title": null}
  },
  "layer": [
    {"data": {"values": [{"x":0,"x2":100,"y":0}]}, "mark": {"type": "rule", "color": "#cccccc", "strokeWidth": 1.3}, "encoding": {"x2": {"field": "x2"}}},
    {"transform": [{"fold": ["OFF","AMIT","APIT"], "as": ["c","y"]}, {"filter": "datum.c === 'OFF'"}], "mark": {"type": "line", "strokeWidth": 4.5, "interpolate": "monotone"}, "encoding": {"color": {"field": "c", "type": "nominal", "scale": {"domain": ["OFF","AMIT","APIT"], "range": ["#9b9b9b","#0072bd","#c00000"]}, "legend": null}}},
    {"transform": [{"fold": ["OFF","AMIT","APIT"], "as": ["c","y"]}, {"filter": "datum.c === 'AMIT'"}], "mark": {"type": "line", "strokeWidth": 4.5, "interpolate": "monotone"}, "encoding": {"color": {"field": "c", "type": "nominal", "scale": {"domain": ["OFF","AMIT","APIT"], "range": ["#9b9b9b","#0072bd","#c00000"]}, "legend": null}}},
    {"transform": [{"fold": ["OFF","AMIT","APIT"], "as": ["c","y"]}, {"filter": "datum.c === 'APIT'"}], "mark": {"type": "line", "strokeWidth": 4.5, "interpolate": "monotone"}, "encoding": {"color": {"field": "c", "type": "nominal", "scale": {"domain": ["OFF","AMIT","APIT"], "range": ["#9b9b9b","#0072bd","#c00000"]}, "legend": null}}},
    {"data": {"values": [
      {"x":62.3,"x2":62.3,"y":1.84,"y2":1.75,"k":"OFF"},{"x":62.3,"x2":62.3,"y":1.75,"y2":1.64,"k":"APIT"},{"x":60.8,"x2":62.3,"y":1.84,"y2":1.84,"k":"OFF"},{"x":60.8,"x2":62.3,"y":1.64,"y2":1.64,"k":"APIT"},
      {"x":68.7,"x2":68.7,"y":1.84,"y2":1.75,"k":"OFF"},{"x":68.7,"x2":68.7,"y":1.75,"y2":1.64,"k":"AMIT"},{"x":67.2,"x2":68.7,"y":1.84,"y2":1.84,"k":"OFF"},{"x":67.2,"x2":68.7,"y":1.64,"y2":1.64,"k":"AMIT"}
    ]}, "mark": {"type": "rule", "strokeWidth": 2, "strokeCap": "square"}, "encoding": {"x2": {"field": "x2"}, "y2": {"field": "y2"}, "stroke": {"field": "k", "type": "nominal", "scale": {"domain": ["OFF","AMIT","APIT"], "range": ["#9b9b9b","#0072bd","#c00000"]}, "legend": null}}},
    {"data": {"values": [{"x":61.6,"y":1.92,"t":"*"},{"x":67.7,"y":1.92,"t":"**"}]}, "mark": {"type": "text", "align": "center", "baseline": "alphabetic", "dy": 8, "fontSize": 14, "color": "#000000"}, "encoding": {"text": {"field": "t"}}},
    {"data": {"values": [{"x":4.2,"y":1.37,"t":"Plantarfl"},{"x":4.2,"y":0.45,"t":"Dorsiflex."}]}, "mark": {"type": "text", "angle": 270, "align": "center", "baseline": "middle", "fontSize": 15, "color": "#000000"}, "encoding": {"text": {"field": "t"}}},
    {"data": {"values": [{"x":10.3,"y":1.06,"y2":1.91},{"x":10.3,"y":0.92,"y2":0.058}]}, "mark": {"type": "rule", "color": "#000000", "strokeWidth": 1.5}, "encoding": {"y2": {"field": "y2"}}},
    {"data": {"values": [{"x":10.3,"y":1.91,"d":"up"},{"x":10.3,"y":0.058,"d":"down"}]}, "mark": {"type": "point", "filled": true, "color": "#000000", "opacity": 1, "size": 50}, "encoding": {"shape": {"field": "d", "type": "nominal", "scale": {"domain": ["up","down"], "range": ["triangle-up","triangle-down"]}, "legend": null}}}
  ]
},
{
  "width": 216, "height": 197,
  "data": {"values": [
    {"x":0,"OFF":-0.10,"AMIT":-0.13,"APIT":-0.13},{"x":2,"OFF":-0.05,"AMIT":-0.13,"APIT":-0.13},{"x":4,"OFF":0.15,"AMIT":-0.05,"APIT":0.05},{"x":6,"OFF":0.50,"AMIT":0.35,"APIT":0.58},{"x":8,"OFF":0.95,"AMIT":1.05,"APIT":1.36},{"x":10,"OFF":1.30,"AMIT":1.65,"APIT":1.74},{"x":11,"OFF":1.45,"AMIT":1.83,"APIT":1.77},{"x":12,"OFF":1.53,"AMIT":1.88,"APIT":1.70},{"x":14,"OFF":1.60,"AMIT":1.72,"APIT":1.48},{"x":16,"OFF":1.50,"AMIT":1.45,"APIT":1.25},{"x":18,"OFF":1.30,"AMIT":1.20,"APIT":1.05},{"x":20,"OFF":1.08,"AMIT":0.98,"APIT":0.84},{"x":23,"OFF":0.75,"AMIT":0.66,"APIT":0.54},{"x":26,"OFF":0.45,"AMIT":0.38,"APIT":0.29},{"x":29,"OFF":0.24,"AMIT":0.20,"APIT":0.14},{"x":32,"OFF":0.10,"AMIT":0.08,"APIT":0.04},{"x":35,"OFF":0.02,"AMIT":0.00,"APIT":-0.04},{"x":38,"OFF":-0.06,"AMIT":-0.07,"APIT":-0.11},{"x":41,"OFF":-0.18,"AMIT":-0.18,"APIT":-0.24},{"x":44,"OFF":-0.38,"AMIT":-0.35,"APIT":-0.44},{"x":46,"OFF":-0.55,"AMIT":-0.50,"APIT":-0.59},{"x":48,"OFF":-0.72,"AMIT":-0.64,"APIT":-0.69},{"x":50,"OFF":-0.82,"AMIT":-0.70,"APIT":-0.62},{"x":52,"OFF":-0.70,"AMIT":-0.62,"APIT":-0.38},{"x":54,"OFF":-0.35,"AMIT":-0.38,"APIT":-0.07},{"x":56,"OFF":0.15,"AMIT":-0.02,"APIT":0.25},{"x":58,"OFF":0.65,"AMIT":0.35,"APIT":0.52},{"x":60,"OFF":1.02,"AMIT":0.65,"APIT":0.71},{"x":61,"OFF":1.08,"AMIT":0.73,"APIT":0.75},{"x":62,"OFF":1.05,"AMIT":0.74,"APIT":0.72},{"x":64,"OFF":0.88,"AMIT":0.62,"APIT":0.55},{"x":66,"OFF":0.66,"AMIT":0.47,"APIT":0.38},{"x":68,"OFF":0.52,"AMIT":0.40,"APIT":0.32},{"x":70,"OFF":0.45,"AMIT":0.33,"APIT":0.24},{"x":72,"OFF":0.35,"AMIT":0.20,"APIT":0.12},{"x":74,"OFF":0.18,"AMIT":0.07,"APIT":0.01},{"x":77,"OFF":0.00,"AMIT":-0.07,"APIT":-0.11},{"x":80,"OFF":-0.08,"AMIT":-0.12,"APIT":-0.14},{"x":85,"OFF":-0.10,"AMIT":-0.13,"APIT":-0.12},{"x":90,"OFF":-0.11,"AMIT":-0.15,"APIT":-0.13},{"x":94,"OFF":-0.03,"AMIT":-0.05,"APIT":-0.03},{"x":97,"OFF":-0.05,"AMIT":-0.05,"APIT":-0.04},{"x":100,"OFF":-0.10,"AMIT":-0.10,"APIT":-0.10}
  ]},
  "encoding": {
    "x": {"field": "x", "type": "quantitative", "scale": {"domain": [0, 100], "nice": false}, "axis": {"values": [0,20,40,60,80,100], "labelOffset": -3, "labelExpr": "'' + datum.value", "titleY": 36}, "title": "Gait Cycle [%]"},
    "y": {"field": "y", "type": "quantitative", "scale": {"domain": [-1, 2], "nice": false, "zero": false}, "axis": {"values": [-1,0,1,2], "labelExpr": "'' + datum.value", "titleX": -42, "titleY": 98.5}, "title": "Power [W/kg]"}
  },
  "layer": [
    {"data": {"values": [{"x":0,"x2":100,"y":0}]}, "mark": {"type": "rule", "color": "#cccccc", "strokeWidth": 1.3}, "encoding": {"x2": {"field": "x2"}}},
    {"transform": [{"fold": ["OFF","AMIT","APIT"], "as": ["c","y"]}, {"filter": "datum.c === 'OFF'"}], "mark": {"type": "line", "strokeWidth": 4.5, "interpolate": "monotone"}, "encoding": {"color": {"field": "c", "type": "nominal", "scale": {"domain": ["OFF","AMIT","APIT"], "range": ["#9b9b9b","#0072bd","#c00000"]}, "legend": null}}},
    {"transform": [{"fold": ["OFF","AMIT","APIT"], "as": ["c","y"]}, {"filter": "datum.c === 'AMIT'"}], "mark": {"type": "line", "strokeWidth": 4.5, "interpolate": "monotone"}, "encoding": {"color": {"field": "c", "type": "nominal", "scale": {"domain": ["OFF","AMIT","APIT"], "range": ["#9b9b9b","#0072bd","#c00000"]}, "legend": null}}},
    {"transform": [{"fold": ["OFF","AMIT","APIT"], "as": ["c","y"]}, {"filter": "datum.c === 'APIT'"}], "mark": {"type": "line", "strokeWidth": 4.5, "interpolate": "monotone"}, "encoding": {"color": {"field": "c", "type": "nominal", "scale": {"domain": ["OFF","AMIT","APIT"], "range": ["#9b9b9b","#0072bd","#c00000"]}, "legend": null}}},
    {"data": {"values": [
      {"x":69.0,"x2":69.0,"y":1.105,"y2":0.89,"k":"OFF"},{"x":69.0,"x2":69.0,"y":0.89,"y2":0.67,"k":"APIT"},{"x":67.5,"x2":69.0,"y":1.105,"y2":1.105,"k":"OFF"},{"x":67.5,"x2":69.0,"y":0.67,"y2":0.67,"k":"APIT"},
      {"x":74.7,"x2":74.7,"y":1.105,"y2":0.89,"k":"OFF"},{"x":74.7,"x2":74.7,"y":0.89,"y2":0.67,"k":"AMIT"},{"x":73.2,"x2":74.7,"y":1.105,"y2":1.105,"k":"OFF"},{"x":73.2,"x2":74.7,"y":0.67,"y2":0.67,"k":"AMIT"}
    ]}, "mark": {"type": "rule", "strokeWidth": 2, "strokeCap": "square"}, "encoding": {"x2": {"field": "x2"}, "y2": {"field": "y2"}, "stroke": {"field": "k", "type": "nominal", "scale": {"domain": ["OFF","AMIT","APIT"], "range": ["#9b9b9b","#0072bd","#c00000"]}, "legend": null}}},
    {"data": {"values": [
      {"x":22.7,"x2":22.7,"y":2.0,"y2":1.65},{"x":20.4,"x2":22.7,"y":2.0,"y2":2.0},{"x":20.4,"x2":22.7,"y":1.65,"y2":1.65},
      {"x":56.9,"x2":56.9,"y":-0.62,"y2":-0.9},{"x":54.6,"x2":56.9,"y":-0.62,"y2":-0.62},{"x":54.6,"x2":56.9,"y":-0.9,"y2":-0.9}
    ]}, "mark": {"type": "rule", "strokeWidth": 2.6, "strokeCap": "square", "color": "#000000"}, "encoding": {"x2": {"field": "x2"}, "y2": {"field": "y2"}}},
    {"data": {"values": [{"x":24.0,"y":1.77,"t":"ns"},{"x":58.6,"y":-0.79,"t":"ns"}]}, "mark": {"type": "text", "align": "left", "baseline": "alphabetic", "dy": 4, "fontSize": 16, "color": "#000000"}, "encoding": {"text": {"field": "t"}}},
    {"data": {"values": [{"x":68.1,"y":1.18,"t":"*"},{"x":75.0,"y":1.18,"t":"**"}]}, "mark": {"type": "text", "align": "center", "baseline": "alphabetic", "dy": 8, "fontSize": 14, "color": "#000000"}, "encoding": {"text": {"field": "t"}}}
  ]
},
{
  "width": 216, "height": 197,
  "data": {"values": [
    {"x":0,"OFF":0.2,"AMIT":0.15,"APIT":0.23},{"x":2,"OFF":0.42,"AMIT":0.35,"APIT":0.38},{"x":3.5,"OFF":0.85,"AMIT":0.8,"APIT":0.72},{"x":5,"OFF":1.02,"AMIT":0.95,"APIT":0.8},{"x":6.5,"OFF":0.9,"AMIT":0.85,"APIT":0.65},{"x":8,"OFF":0.25,"AMIT":0.2,"APIT":0.1},{"x":9.5,"OFF":-0.45,"AMIT":-0.45,"APIT":-0.5},{"x":11,"OFF":-0.95,"AMIT":-0.95,"APIT":-0.97},{"x":12,"OFF":-0.98,"AMIT":-0.98,"APIT":-0.98},{"x":13,"OFF":-0.8,"AMIT":-0.82,"APIT":-0.82},{"x":14.5,"OFF":-0.35,"AMIT":-0.42,"APIT":-0.42},{"x":16.5,"OFF":0.3,"AMIT":0.17,"APIT":0.18},{"x":19,"OFF":0.63,"AMIT":0.48,"APIT":0.48},{"x":21,"OFF":0.72,"AMIT":0.55,"APIT":0.54},{"x":23.5,"OFF":0.58,"AMIT":0.47,"APIT":0.45},{"x":27,"OFF":0.3,"AMIT":0.25,"APIT":0.25},{"x":32,"OFF":0.0,"AMIT":0.0,"APIT":0.02},{"x":36,"OFF":-0.15,"AMIT":-0.12,"APIT":-0.09},{"x":40,"OFF":-0.22,"AMIT":-0.18,"APIT":-0.15},{"x":42,"OFF":-0.22,"AMIT":-0.18,"APIT":-0.16},{"x":44,"OFF":-0.12,"AMIT":-0.1,"APIT":-0.08},{"x":46,"OFF":0.08,"AMIT":0.1,"APIT":0.09},{"x":48,"OFF":0.3,"AMIT":0.33,"APIT":0.22},{"x":50,"OFF":0.47,"AMIT":0.5,"APIT":0.29},{"x":52,"OFF":0.4,"AMIT":0.56,"APIT":0.22},{"x":54,"OFF":-0.05,"AMIT":0.3,"APIT":-0.12},{"x":56,"OFF":-0.7,"AMIT":-0.3,"APIT":-0.75},{"x":58,"OFF":-1.5,"AMIT":-0.95,"APIT":-1.45},{"x":59.5,"OFF":-1.95,"AMIT":-1.35,"APIT":-1.72},{"x":61,"OFF":-1.98,"AMIT":-1.38,"APIT":-1.68},{"x":62.5,"OFF":-1.45,"AMIT":-1.0,"APIT":-1.15},{"x":64,"OFF":-0.75,"AMIT":-0.55,"APIT":-0.6},{"x":66,"OFF":-0.28,"AMIT":-0.22,"APIT":-0.22},{"x":68,"OFF":-0.18,"AMIT":-0.16,"APIT":-0.15},{"x":70,"OFF":-0.15,"AMIT":-0.14,"APIT":-0.13},{"x":74,"OFF":-0.03,"AMIT":-0.03,"APIT":-0.02},{"x":78,"OFF":0.01,"AMIT":0.01,"APIT":0.02},{"x":82,"OFF":-0.06,"AMIT":-0.06,"APIT":-0.05},{"x":85,"OFF":-0.27,"AMIT":-0.28,"APIT":-0.27},{"x":88,"OFF":-0.62,"AMIT":-0.65,"APIT":-0.62},{"x":90,"OFF":-0.93,"AMIT":-0.98,"APIT":-0.93},{"x":92,"OFF":-1.25,"AMIT":-1.3,"APIT":-1.25},{"x":94,"OFF":-1.38,"AMIT":-1.43,"APIT":-1.38},{"x":95.5,"OFF":-1.27,"AMIT":-1.3,"APIT":-1.28},{"x":97,"OFF":-0.85,"AMIT":-0.85,"APIT":-0.85},{"x":98.5,"OFF":-0.25,"AMIT":-0.25,"APIT":-0.25},{"x":100,"OFF":0.2,"AMIT":0.22,"APIT":0.22}
  ]},
  "encoding": {
    "x": {"field": "x", "type": "quantitative", "scale": {"domain": [0, 100], "nice": false}, "axis": {"values": [0,20,40,60,80,100], "labelOffset": -3, "labelExpr": "'' + datum.value", "titleY": 36}, "title": "Gait Cycle [%]"},
    "y": {"field": "y", "type": "quantitative", "scale": {"domain": [-2.3, 1.3], "nice": false, "zero": false}, "axis": {"values": [-2,-1,0,1], "labelExpr": "'' + datum.value"}, "title": null}
  },
  "layer": [
    {"data": {"values": [{"x":0,"x2":100,"y":0}]}, "mark": {"type": "rule", "color": "#cccccc", "strokeWidth": 1.3}, "encoding": {"x2": {"field": "x2"}}},
    {"transform": [{"fold": ["OFF","AMIT","APIT"], "as": ["c","y"]}, {"filter": "datum.c === 'OFF'"}], "mark": {"type": "line", "strokeWidth": 4.5, "interpolate": "monotone"}, "encoding": {"color": {"field": "c", "type": "nominal", "scale": {"domain": ["OFF","AMIT","APIT"], "range": ["#9b9b9b","#0072bd","#c00000"]}, "legend": null}}},
    {"transform": [{"fold": ["OFF","AMIT","APIT"], "as": ["c","y"]}, {"filter": "datum.c === 'AMIT'"}], "mark": {"type": "line", "strokeWidth": 4.5, "interpolate": "monotone"}, "encoding": {"color": {"field": "c", "type": "nominal", "scale": {"domain": ["OFF","AMIT","APIT"], "range": ["#9b9b9b","#0072bd","#c00000"]}, "legend": null}}},
    {"transform": [{"fold": ["OFF","AMIT","APIT"], "as": ["c","y"]}, {"filter": "datum.c === 'APIT'"}], "mark": {"type": "line", "strokeWidth": 4.5, "interpolate": "monotone"}, "encoding": {"color": {"field": "c", "type": "nominal", "scale": {"domain": ["OFF","AMIT","APIT"], "range": ["#9b9b9b","#0072bd","#c00000"]}, "legend": null}}},
    {"data": {"values": [
      {"x":58.3,"x2":58.3,"y":0.59,"y2":0.39,"k":"OFF"},{"x":58.3,"x2":58.3,"y":0.39,"y2":0.185,"k":"APIT"},{"x":56.8,"x2":58.3,"y":0.59,"y2":0.59,"k":"OFF"},{"x":56.8,"x2":58.3,"y":0.185,"y2":0.185,"k":"APIT"},
      {"x":65.3,"x2":65.3,"y":0.59,"y2":0.39,"k":"AMIT"},{"x":65.3,"x2":65.3,"y":0.39,"y2":0.185,"k":"APIT"},{"x":63.8,"x2":65.3,"y":0.59,"y2":0.59,"k":"AMIT"},{"x":63.8,"x2":65.3,"y":0.185,"y2":0.185,"k":"APIT"},
      {"x":69.4,"x2":69.4,"y":-1.42,"y2":-1.72,"k":"AMIT"},{"x":69.4,"x2":69.4,"y":-1.72,"y2":-2.01,"k":"OFF"},{"x":67.9,"x2":69.4,"y":-1.42,"y2":-1.42,"k":"AMIT"},{"x":67.9,"x2":69.4,"y":-2.01,"y2":-2.01,"k":"OFF"}
    ]}, "mark": {"type": "rule", "strokeWidth": 2, "strokeCap": "square"}, "encoding": {"x2": {"field": "x2"}, "y2": {"field": "y2"}, "stroke": {"field": "k", "type": "nominal", "scale": {"domain": ["OFF","AMIT","APIT"], "range": ["#9b9b9b","#0072bd","#c00000"]}, "legend": null}}},
    {"data": {"values": [{"x":57.6,"y":0.68,"t":"*"},{"x":64.5,"y":0.68,"t":"*"},{"x":68.7,"y":-1.28,"t":"*"}]}, "mark": {"type": "text", "align": "center", "baseline": "alphabetic", "dy": 8, "fontSize": 14, "color": "#000000"}, "encoding": {"text": {"field": "t"}}}
  ]
},
{
  "width": 216, "height": 197,
  "data": {"values": [
    {"x":0,"OFF":0,"AMIT":0,"APIT":0},{"x":2.5,"OFF":-0.15,"AMIT":-0.17,"APIT":-0.17},{"x":5,"OFF":-0.38,"AMIT":-0.38,"APIT":-0.4},{"x":6.5,"OFF":-0.32,"AMIT":-0.3,"APIT":-0.33},{"x":8.5,"OFF":-0.06,"AMIT":-0.05,"APIT":-0.07},{"x":10.5,"OFF":0.08,"AMIT":0.09,"APIT":0.09},{"x":12.5,"OFF":-0.08,"AMIT":-0.06,"APIT":-0.06},{"x":15,"OFF":-0.45,"AMIT":-0.35,"APIT":-0.42},{"x":17.5,"OFF":-0.62,"AMIT":-0.48,"APIT":-0.57},{"x":20,"OFF":-0.5,"AMIT":-0.35,"APIT":-0.43},{"x":23,"OFF":-0.25,"AMIT":0.0,"APIT":-0.2},{"x":26,"OFF":-0.08,"AMIT":0.12,"APIT":-0.05},{"x":29,"OFF":-0.05,"AMIT":0.17,"APIT":0.0},{"x":33,"OFF":-0.15,"AMIT":0.17,"APIT":-0.05},{"x":38,"OFF":-0.4,"AMIT":0.18,"APIT":-0.27},{"x":41,"OFF":-0.68,"AMIT":0.38,"APIT":-0.4},{"x":43,"OFF":-0.9,"AMIT":0.55,"APIT":-0.3},{"x":45,"OFF":-0.98,"AMIT":0.85,"APIT":0.45},{"x":47,"OFF":-1.0,"AMIT":1.25,"APIT":1.8},{"x":49,"OFF":-0.6,"AMIT":1.8,"APIT":3.3},{"x":51,"OFF":0.5,"AMIT":2.3,"APIT":4.5},{"x":53,"OFF":2.0,"AMIT":3.1,"APIT":5.0},{"x":54.5,"OFF":3.0,"AMIT":3.55,"APIT":4.95},{"x":56,"OFF":3.65,"AMIT":3.68,"APIT":4.55},{"x":57.5,"OFF":3.8,"AMIT":3.25,"APIT":3.6},{"x":59,"OFF":3.2,"AMIT":2.2,"APIT":2.5},{"x":61,"OFF":1.7,"AMIT":0.95,"APIT":1.2},{"x":63,"OFF":0.6,"AMIT":0.25,"APIT":0.35},{"x":65,"OFF":0.08,"AMIT":0.04,"APIT":0.06},{"x":67,"OFF":0.0,"AMIT":0.0,"APIT":0.0},{"x":70,"OFF":0.02,"AMIT":0.03,"APIT":0.04},{"x":75,"OFF":0.02,"AMIT":0.02,"APIT":0.03},{"x":80,"OFF":0.01,"AMIT":0.0,"APIT":0.01},{"x":90,"OFF":0.0,"AMIT":0.0,"APIT":0.0},{"x":100,"OFF":0.0,"AMIT":0.0,"APIT":0.0}
  ]},
  "encoding": {
    "x": {"field": "x", "type": "quantitative", "scale": {"domain": [0, 100], "nice": false}, "axis": {"values": [0,20,40,60,80,100], "labelOffset": -3, "labelExpr": "'' + datum.value", "titleY": 36}, "title": "Gait Cycle [%]"},
    "y": {"field": "y", "type": "quantitative", "scale": {"domain": [-1.2, 5.5], "nice": false, "zero": false}, "axis": {"values": [0,2,4], "labelExpr": "'' + datum.value"}, "title": null}
  },
  "layer": [
    {"data": {"values": [{"x":0,"x2":100,"y":0}]}, "mark": {"type": "rule", "color": "#cccccc", "strokeWidth": 1.3}, "encoding": {"x2": {"field": "x2"}}},
    {"transform": [{"fold": ["OFF","AMIT","APIT"], "as": ["c","y"]}, {"filter": "datum.c === 'OFF'"}], "mark": {"type": "line", "strokeWidth": 4.5, "interpolate": "monotone"}, "encoding": {"color": {"field": "c", "type": "nominal", "scale": {"domain": ["OFF","AMIT","APIT"], "range": ["#9b9b9b","#0072bd","#c00000"]}, "legend": null}}},
    {"transform": [{"fold": ["OFF","AMIT","APIT"], "as": ["c","y"]}, {"filter": "datum.c === 'AMIT'"}], "mark": {"type": "line", "strokeWidth": 4.5, "interpolate": "monotone"}, "encoding": {"color": {"field": "c", "type": "nominal", "scale": {"domain": ["OFF","AMIT","APIT"], "range": ["#9b9b9b","#0072bd","#c00000"]}, "legend": null}}},
    {"transform": [{"fold": ["OFF","AMIT","APIT"], "as": ["c","y"]}, {"filter": "datum.c === 'APIT'"}], "mark": {"type": "line", "strokeWidth": 4.5, "interpolate": "monotone"}, "encoding": {"color": {"field": "c", "type": "nominal", "scale": {"domain": ["OFF","AMIT","APIT"], "range": ["#9b9b9b","#0072bd","#c00000"]}, "legend": null}}},
    {"data": {"values": [
      {"x":64.4,"x2":64.4,"y":5.09,"y2":4.32,"k":"APIT"},{"x":64.4,"x2":64.4,"y":4.32,"y2":3.56,"k":"AMIT"},{"x":62.9,"x2":64.4,"y":5.09,"y2":5.09,"k":"APIT"},{"x":62.9,"x2":64.4,"y":3.56,"y2":3.56,"k":"AMIT"},
      {"x":71.3,"x2":71.3,"y":5.09,"y2":4.54,"k":"APIT"},{"x":71.3,"x2":71.3,"y":4.54,"y2":3.99,"k":"OFF"},{"x":69.8,"x2":71.3,"y":5.09,"y2":5.09,"k":"APIT"},{"x":69.8,"x2":71.3,"y":3.99,"y2":3.99,"k":"OFF"}
    ]}, "mark": {"type": "rule", "strokeWidth": 2, "strokeCap": "square"}, "encoding": {"x2": {"field": "x2"}, "y2": {"field": "y2"}, "stroke": {"field": "k", "type": "nominal", "scale": {"domain": ["OFF","AMIT","APIT"], "range": ["#9b9b9b","#0072bd","#c00000"]}, "legend": null}}},
    {"data": {"values": [{"x":63.6,"y":5.29,"t":"**"},{"x":70.5,"y":5.29,"t":"**"}]}, "mark": {"type": "text", "align": "center", "baseline": "alphabetic", "dy": 8, "fontSize": 14, "color": "#000000"}, "encoding": {"text": {"field": "t"}}}
  ]
}
]
}
